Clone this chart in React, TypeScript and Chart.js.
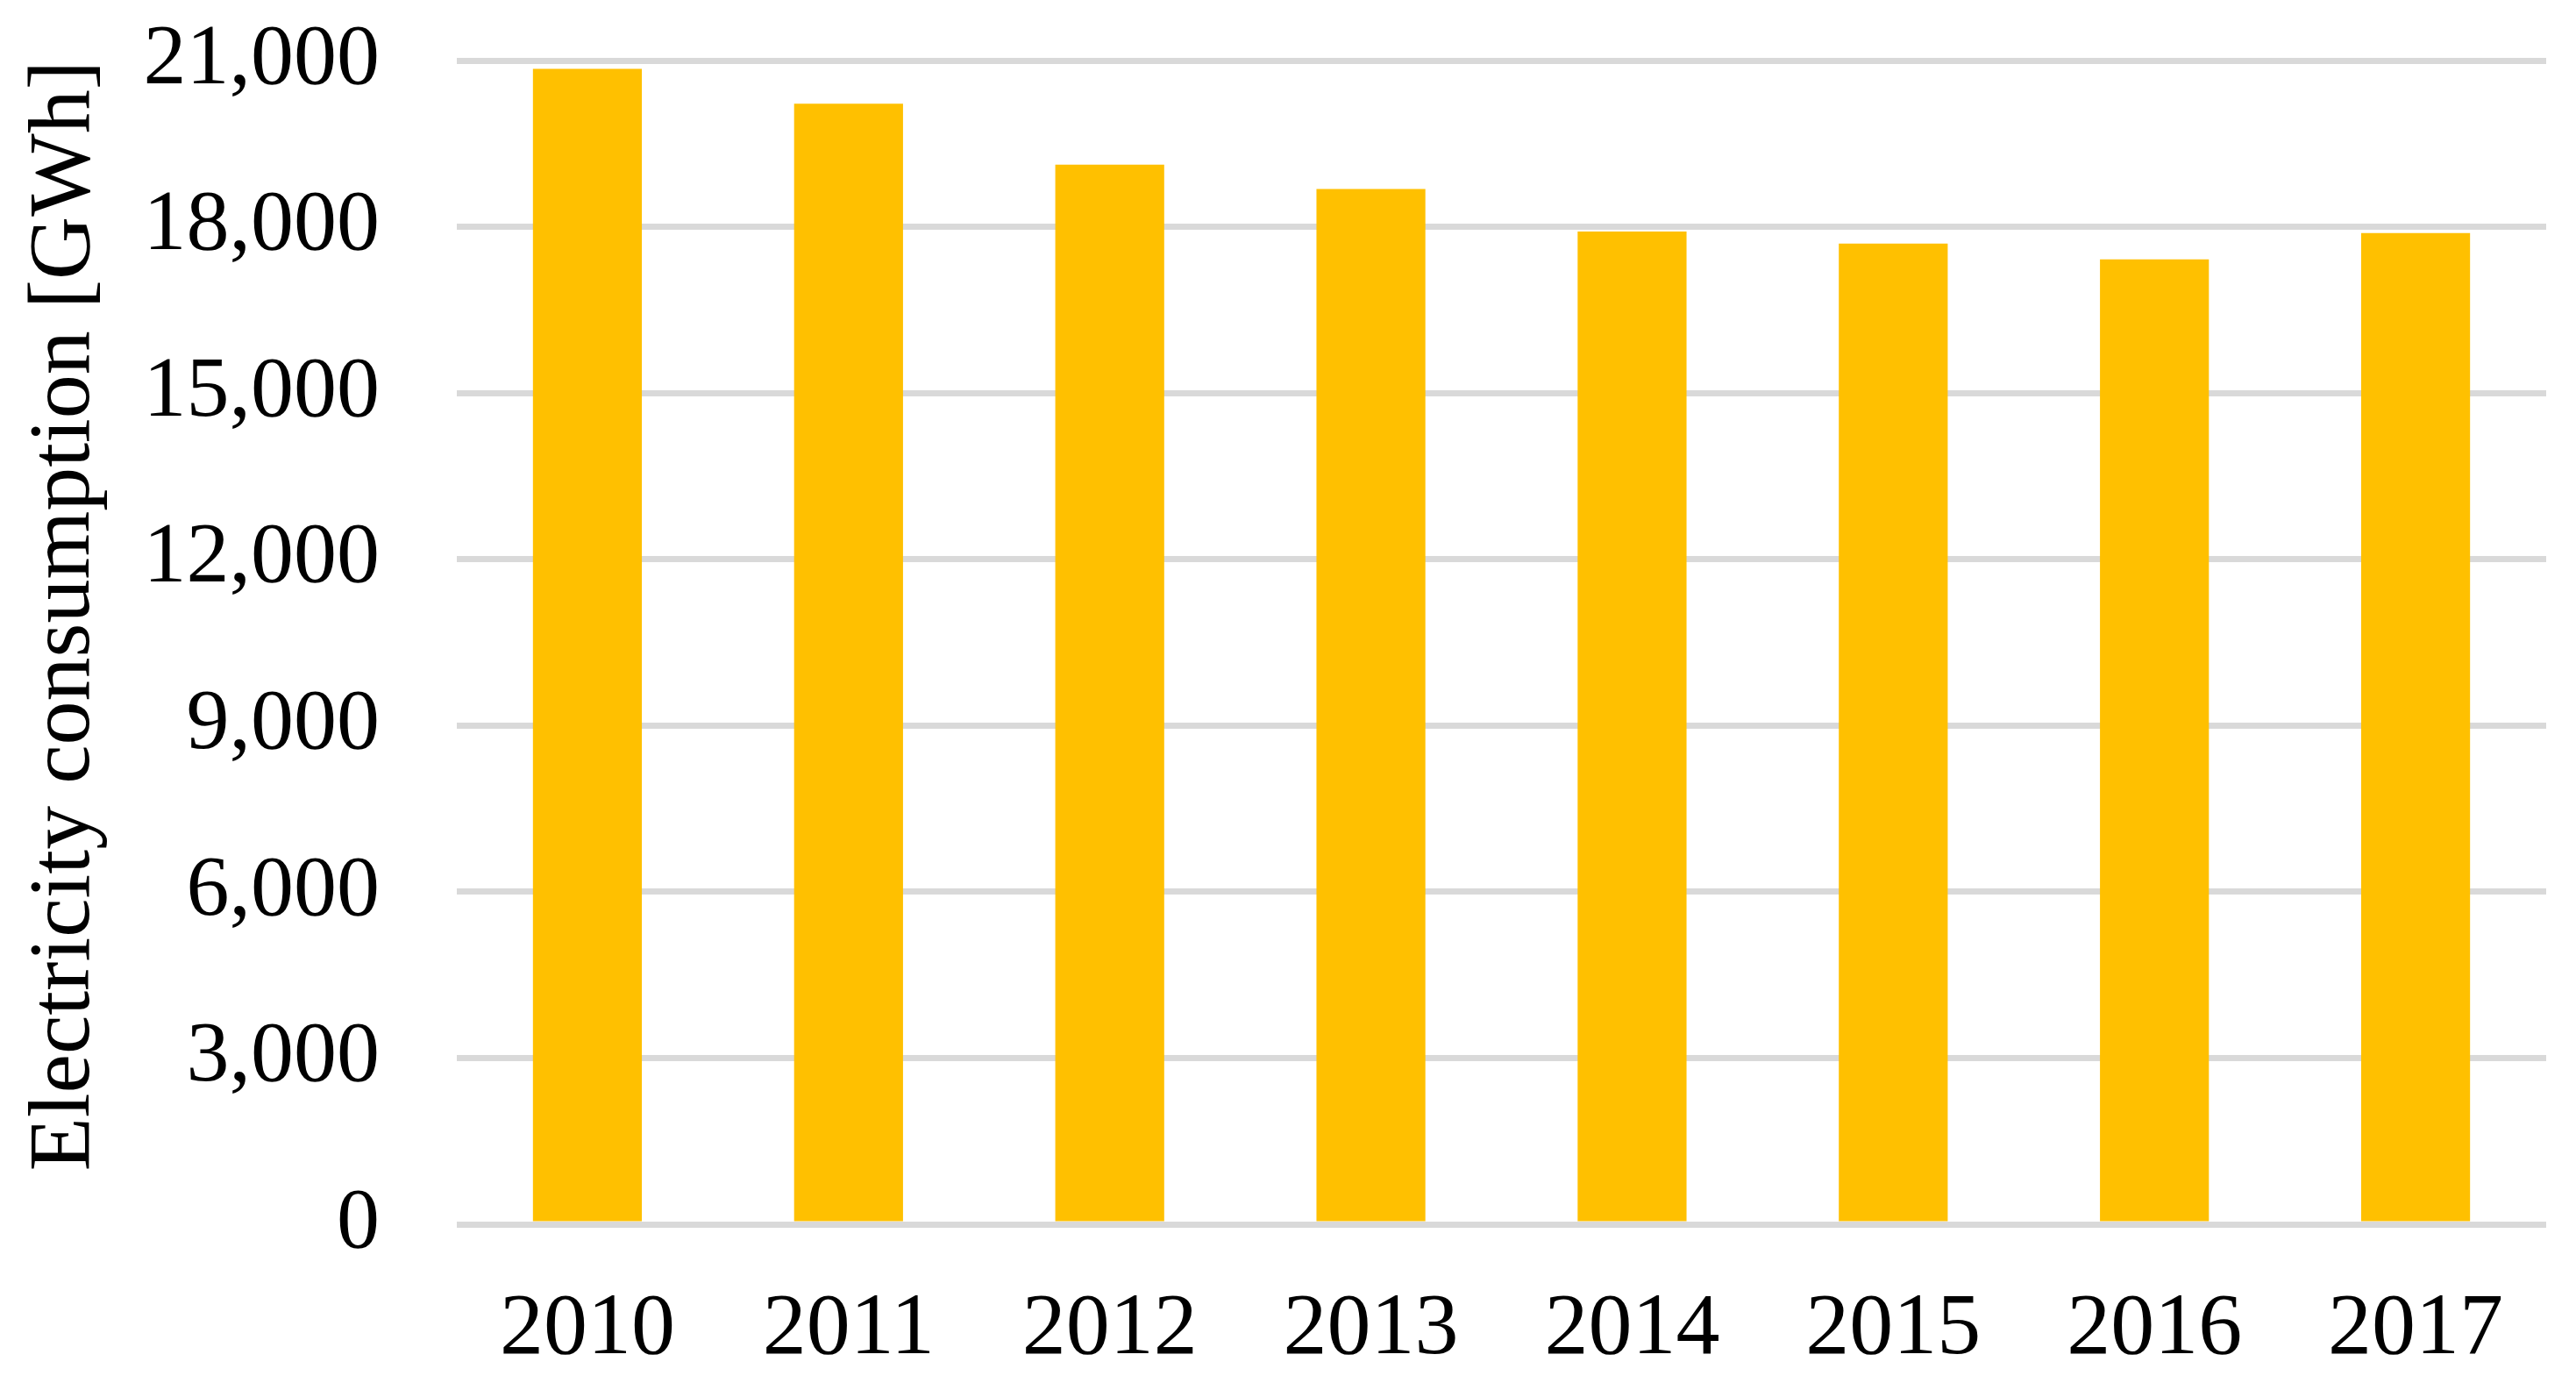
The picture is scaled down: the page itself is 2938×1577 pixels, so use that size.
import React, { useEffect, useRef } from "react";
import { Chart, registerables } from "chart.js";

Chart.register(...registerables);

const years = ["2010", "2011", "2012", "2013", "2014", "2015", "2016", "2017"];
const consumption = [20850, 20220, 19120, 18680, 17915, 17695, 17410, 17885];
const yTicks = [0, 3000, 6000, 9000, 12000, 15000, 18000, 21000];
const yTitle = "Electricity consumption [GWh]";

const FONT = "'Liberation Serif', 'Times New Roman', serif";

export default function App() {
  const ref = useRef<HTMLCanvasElement | null>(null);
  useEffect(() => {
    if (!ref.current) return;
    const chart = new Chart(ref.current, {
      type: "bar",
      data: {
        labels: years,
        datasets: [
          {
            data: consumption,
            backgroundColor: "#FFC000",
            borderWidth: 0,
            categoryPercentage: 1,
            barPercentage: 0.417,
          },
        ],
      },
      options: {
        animation: false,
        responsive: true,
        maintainAspectRatio: false,
        layout: { padding: { top: 69, right: 34, left: 0, bottom: 0 } },
        plugins: { legend: { display: false }, tooltip: { enabled: false } },
        scales: {
          x: {
            grid: { display: false, drawTicks: false },
            border: { display: false },
            ticks: {
              color: "#000",
              font: { family: FONT, size: 100 },
              padding: 61,
              maxRotation: 0,
            },
            afterFit: (s: any) => {
              s.height = 181;
              s.paddingLeft = 0;
              s.paddingRight = 0;
            },
          },
          y: {
            min: 0,
            max: 21000,
            afterBuildTicks: (s: any) => {
              s.ticks = yTicks.map((v) => ({ value: v }));
            },
            grid: { color: "#D9D9D9", lineWidth: 7, drawTicks: false },
            border: { display: false },
            ticks: {
              color: "#000",
              font: { family: FONT, size: 98 },
              padding: 88,
              callback: (v: any) => Number(v).toLocaleString("en-US"),
            },
            title: {
              display: true,
              text: yTitle,
              color: "#000",
              align: "end",
              font: { family: FONT, size: 100, weight: "normal" },
              padding: { top: 15, bottom: 0 },
            },
            afterFit: (s: any) => {
              s.width = 521;
              s.paddingTop = 0;
              s.paddingBottom = 0;
            },
          },
        },
      },
    });
    return () => chart.destroy();
  }, []);
  return (
    <div style={{ position: "fixed", left: 0, top: 0, width: 2938, height: 1577, background: "#fff" }}>
      <canvas ref={ref} />
    </div>
  );
}
